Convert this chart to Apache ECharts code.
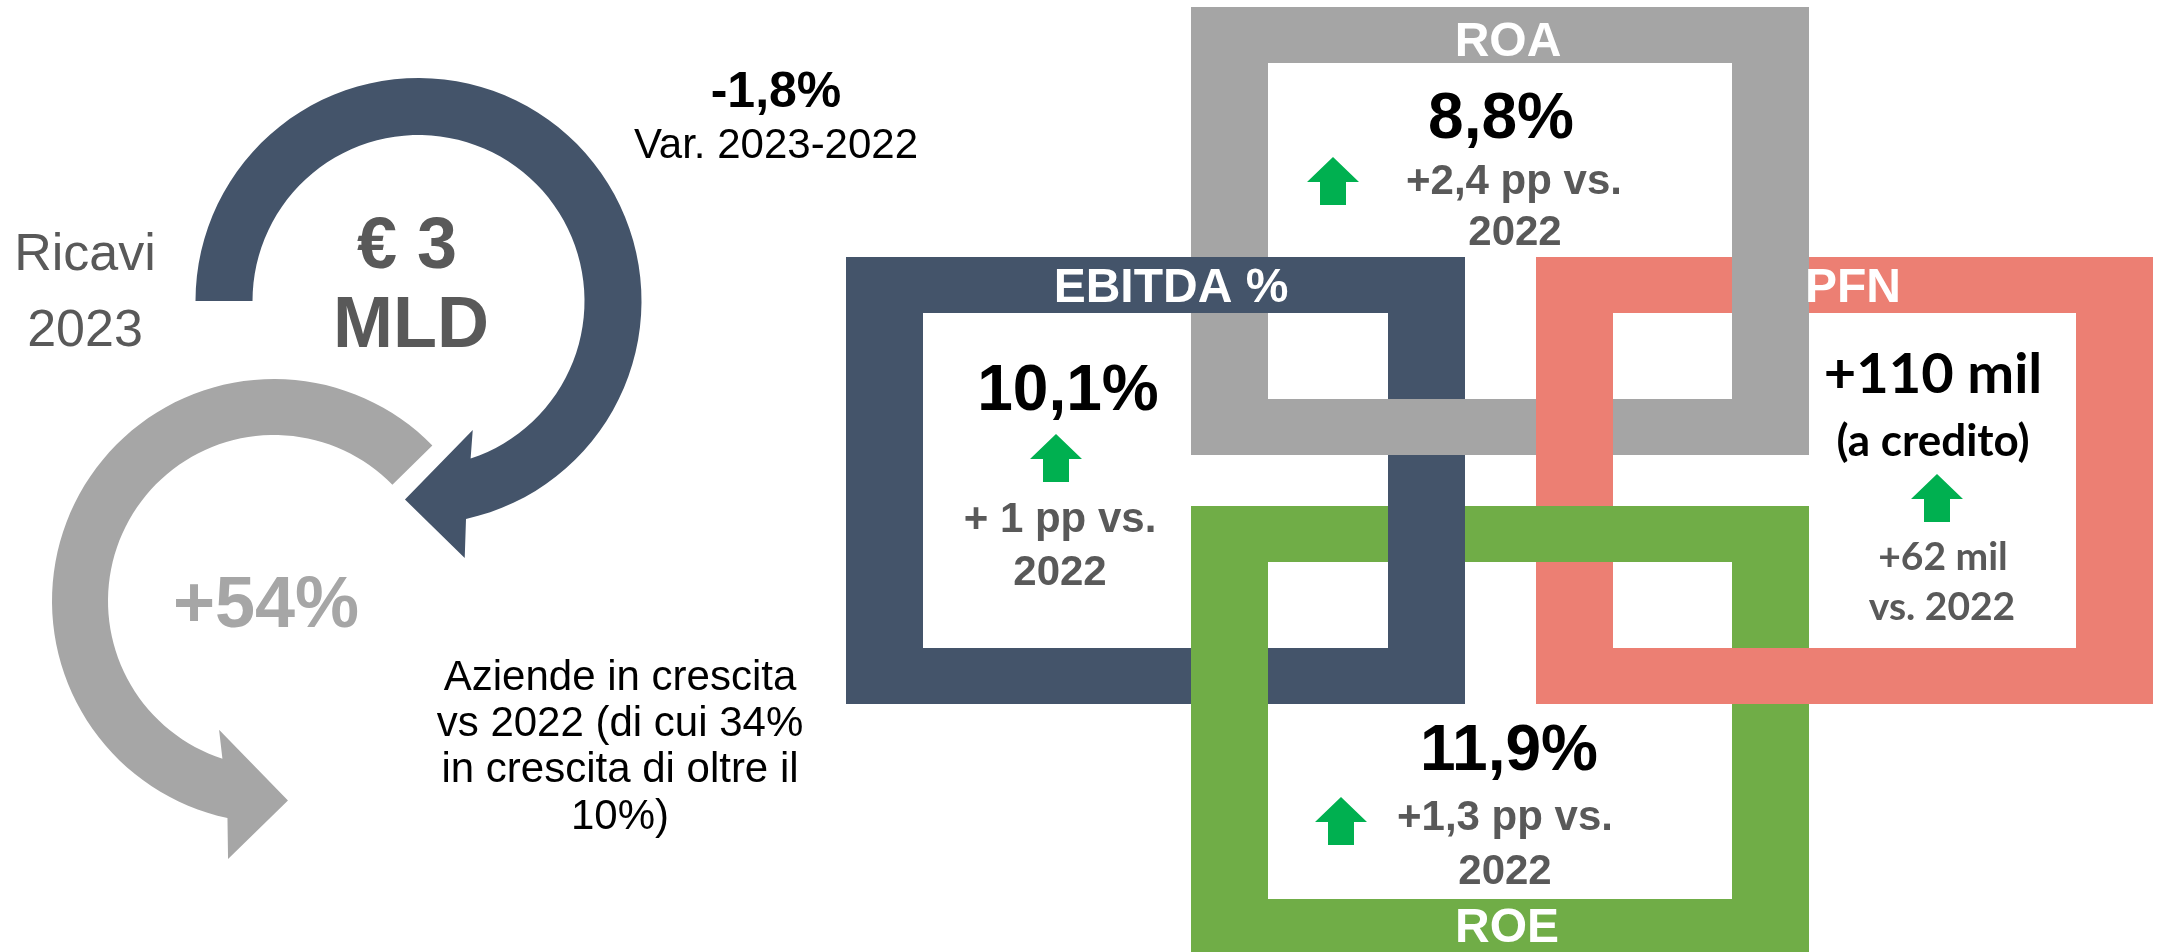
<!DOCTYPE html>
<html>
<head>
<meta charset="utf-8">
<script src="https://cdn.jsdelivr.net/npm/echarts@6/dist/echarts.min.js"></script>
<style>
  html, body { margin: 0; padding: 0; background: #fff; }
  #main { width: 2159px; height: 952px; }
</style>
</head>
<body>
<div id="main"></div>
<script>
// --- data ---
var revenueLabel = ['Ricavi', '2023'];
var revenueValue = ['€ 3', 'MLD'];
var revenueChange = ['-1,8%', 'Var. 2023-2022'];
var growthShare = '+54%';
var growthNote = ['Aziende in crescita', 'vs 2022 (di cui 34%', 'in crescita di oltre il', '10%)'];

var kpiLabels = ['ROA', 'EBITDA %', 'PFN', 'ROE'];
var kpiValues = ['8,8%', '10,1%', '+110 mil', '11,9%'];
var kpiValueNotes = ['', '', '(a credito)', ''];
var kpiDeltas = [['+2,4 pp vs.', '2022'], ['+ 1 pp vs.', '2022'], ['+62 mil', 'vs. 2022'], ['+1,3 pp vs.', '2022']];

// --- layout ---
var NAVY = '#44546a', GREY = '#a5a5a5', SALMON = '#ec7f73', GREEN = '#70ad47';
var ARROW_GREEN = '#00b050', TEXT_GREY = '#595959';
var ARIAL = '"Liberation Sans", Arial, sans-serif';
var CALIBRI = 'Lato, "Open Sans", sans-serif';
var TH = 56, TV = 77; // frame bar thickness (horizontal bars / vertical bars)

var frames = {
  ROA:    {x: 1191, y: 7,   w: 618, h: 448, color: GREY},
  EBITDA: {x: 846,  y: 257, w: 619, h: 447, color: NAVY},
  PFN:    {x: 1536, y: 257, w: 617, h: 447, color: SALMON},
  ROE:    {x: 1191, y: 506, w: 618, h: 449, color: GREEN}
};
var frameKeys = ['ROA', 'EBITDA', 'PFN', 'ROE'];

// which bar lies on top where two frames cross
var crossings = [
  ['EBITDA', 'top', 'ROA', 'left'],
  ['ROA', 'bottom', 'EBITDA', 'right'],
  ['ROA', 'right', 'PFN', 'top'],
  ['PFN', 'left', 'ROA', 'bottom'],
  ['EBITDA', 'right', 'ROE', 'top'],
  ['ROE', 'left', 'EBITDA', 'bottom'],
  ['ROE', 'top', 'PFN', 'left'],
  ['PFN', 'bottom', 'ROE', 'right']
];

// text placement per box: label, value, note, delta lines, arrow
var boxText = [
  {label: [1508, 59], value: [1501, 143], note: null, deltas: [[1514, 197], [1515, 248]], arrow: [1333, 157], calibri: false},
  {label: [1171, 305], value: [1068, 415], note: null, deltas: [[1060, 535], [1060, 588]], arrow: [1056, 434], calibri: false},
  {label: [1853, 305], value: [1933, 397], note: [1933, 459], deltas: [[1943, 573], [1942, 623]], arrow: [1937, 474], calibri: true},
  {label: [1507, 945], value: [1509, 775], note: null, deltas: [[1505, 833], [1505, 887]], arrow: [1341, 797], calibri: false}
];

function bar(f, side) {
  if (side === 'top') return [f.x, f.y, f.w, TH];
  if (side === 'bottom') return [f.x, f.y + f.h - TH, f.w, TH];
  if (side === 'left') return [f.x, f.y, TV, f.h];
  return [f.x + f.w - TV, f.y, TV, f.h];
}

function rectEl(r, fill, z) {
  return {type: 'rect', z: z, silent: true, shape: {x: r[0], y: r[1], width: r[2], height: r[3]}, style: {fill: fill}};
}

function txt(str, x, base, size, weight, fill, family, off) {
  var k = off || 0.347;
  return {
    type: 'text', z: 10, silent: true, x: x, y: base - k * size,
    style: {
      text: str, font: weight + ' ' + size + 'px ' + family, fill: fill,
      align: 'center', verticalAlign: 'middle', textAlign: 'center', textVerticalAlign: 'middle'
    }
  };
}

function upArrow(cx, top) {
  var w = 52, h = 48, head = 25, sw = 26;
  return {
    type: 'polygon', z: 10, silent: true,
    shape: {points: [
      [cx, top], [cx + w / 2, top + head], [cx + sw / 2, top + head], [cx + sw / 2, top + h],
      [cx - sw / 2, top + h], [cx - sw / 2, top + head], [cx - w / 2, top + head]
    ]},
    style: {fill: ARROW_GREEN}
  };
}

// circular arrow outline in polar terms (degrees, screen orientation)
function polar(c, r, deg) {
  var a = deg * Math.PI / 180;
  return [c[0] + r * Math.cos(a), c[1] + r * Math.sin(a)];
}
function circArrow(spec) {
  var pts = [], n = 80, i, a;
  for (i = 0; i <= n; i++) {
    a = spec.start + (spec.outerEnd - spec.start) * i / n;
    pts.push(polar(spec.c, spec.R, a));
  }
  pts.push(polar(spec.c, spec.baseOuter[0], spec.baseOuter[1]));
  pts.push(polar(spec.c, spec.tip[0], spec.tip[1]));
  pts.push(polar(spec.c, spec.baseInner[0], spec.baseInner[1]));
  for (i = 0; i <= n; i++) {
    a = spec.innerEnd + (spec.start - spec.innerEnd) * i / n;
    pts.push(polar(spec.c, spec.r, a));
  }
  return {type: 'polygon', z: 1, silent: true, shape: {points: pts}, style: {fill: spec.color}};
}

// dark arrow runs clockwise from 9 o'clock, grey one counter-clockwise from upper right
var darkArrow = {c: [418.5, 301], R: 223, r: 166, start: 180, outerEnd: 437.7, innerEnd: 431.7,
  baseOuter: [261, 439.8], tip: [199, 453.9], baseInner: [140, 427.2], color: NAVY};
var greyArrow = {c: [274, 601], R: 222, r: 166, start: 315.5, outerEnd: 102.1, innerEnd: 108.1,
  baseOuter: [262, 100.1], tip: [200, 86], baseInner: [140, 113.1], color: '#a6a6a6'};

var elements = [];
elements.push(circArrow(greyArrow));
elements.push(circArrow(darkArrow));

frameKeys.forEach(function (k) {
  var f = frames[k];
  ['top', 'bottom', 'left', 'right'].forEach(function (s) {
    elements.push(rectEl(bar(f, s), f.color, 2));
  });
});
crossings.forEach(function (c) {
  var a = bar(frames[c[0]], c[1]), b = bar(frames[c[2]], c[3]);
  var x0 = Math.max(a[0], b[0]), y0 = Math.max(a[1], b[1]);
  var x1 = Math.min(a[0] + a[2], b[0] + b[2]), y1 = Math.min(a[1] + a[3], b[1] + b[3]);
  elements.push(rectEl([x0, y0, x1 - x0, y1 - y0], frames[c[0]].color, 3));
});

// left block text
elements.push(txt(revenueLabel[0], 85, 274, 52, 'normal', TEXT_GREY, ARIAL));
elements.push(txt(revenueLabel[1], 85, 350, 52, 'normal', TEXT_GREY, ARIAL));
elements.push(txt(revenueValue[0], 407, 273, 72, 'bold', TEXT_GREY, ARIAL));
elements.push(txt(revenueValue[1], 411, 352, 72, 'bold', TEXT_GREY, ARIAL));
elements.push(txt(revenueChange[0], 776, 111, 50, 'bold', '#000', ARIAL));
elements.push(txt(revenueChange[1], 776, 161, 42, 'normal', '#000', ARIAL));
elements.push(txt(growthShare, 266, 632, 72, 'bold', '#a6a6a6', ARIAL));
[693, 739, 785, 832].forEach(function (b, i) {
  elements.push(txt(growthNote[i], 620, b, 42, 'normal', '#000', ARIAL));
});

// KPI boxes text
boxText.forEach(function (p, i) {
  elements.push(txt(kpiLabels[i], p.label[0], p.label[1], 48, 'bold', '#fff', ARIAL));
  if (p.calibri) {
    elements.push(txt(kpiValues[i], p.value[0], p.value[1], 56, 'bold', '#000', CALIBRI, 0.387));
    elements.push(txt(kpiValueNotes[i], p.note[0], p.note[1], 44, 'bold', '#000', CALIBRI, 0.387));
    p.deltas.forEach(function (d, j) {
      elements.push(txt(kpiDeltas[i][j], d[0], d[1], 39, 'bold', TEXT_GREY, CALIBRI, 0.387));
    });
  } else {
    elements.push(txt(kpiValues[i], p.value[0], p.value[1], 64, 'bold', '#000', ARIAL));
    p.deltas.forEach(function (d, j) {
      elements.push(txt(kpiDeltas[i][j], d[0], d[1], 42, 'bold', TEXT_GREY, ARIAL));
    });
  }
  elements.push(upArrow(p.arrow[0], p.arrow[1]));
});

var chart = echarts.init(document.getElementById('main'));
chart.setOption({
  backgroundColor: '#fff',
  animation: false,
  graphic: {elements: elements}
});
</script>
</body>
</html>
